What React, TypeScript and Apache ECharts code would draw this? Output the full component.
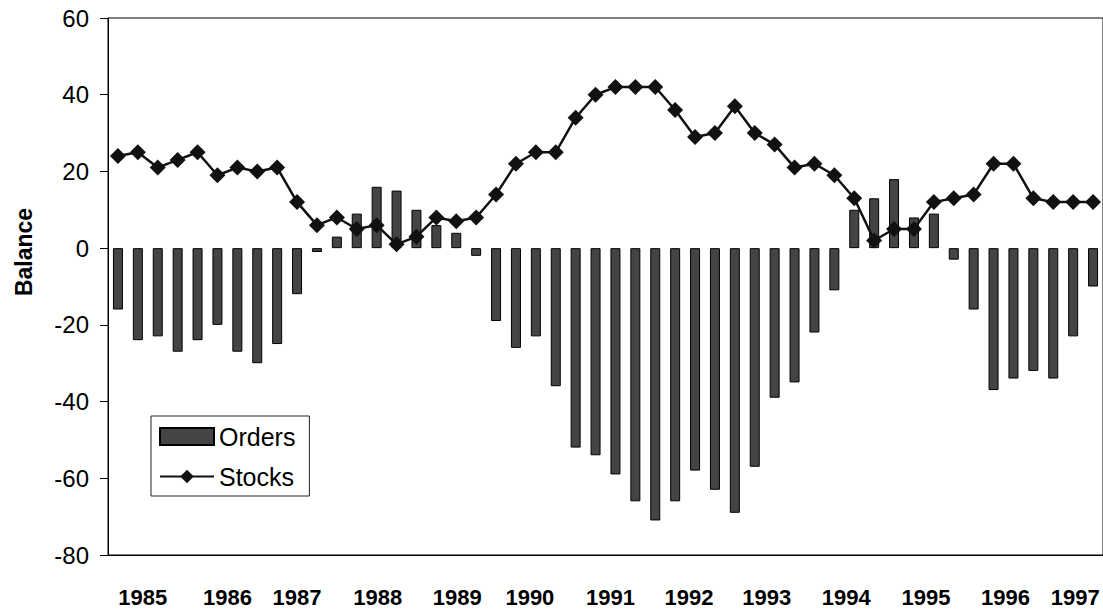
import React, { useEffect, useRef } from "react";
import * as echarts from "echarts";

// Quarterly categories, 1985 Q1 .. 1997 Q2
const categories = [
  "1985Q1", "1985Q2", "1985Q3", "1985Q4",
  "1986Q1", "1986Q2", "1986Q3", "1986Q4",
  "1987Q1", "1987Q2", "1987Q3", "1987Q4",
  "1988Q1", "1988Q2", "1988Q3", "1988Q4",
  "1989Q1", "1989Q2", "1989Q3", "1989Q4",
  "1990Q1", "1990Q2", "1990Q3", "1990Q4",
  "1991Q1", "1991Q2", "1991Q3", "1991Q4",
  "1992Q1", "1992Q2", "1992Q3", "1992Q4",
  "1993Q1", "1993Q2", "1993Q3", "1993Q4",
  "1994Q1", "1994Q2", "1994Q3", "1994Q4",
  "1995Q1", "1995Q2", "1995Q3", "1995Q4",
  "1996Q1", "1996Q2", "1996Q3", "1996Q4",
  "1997Q1", "1997Q2",
];

const orders = [
  -16, -24, -23, -27, -24, -20, -27, -30, -25, -12,
  -1, 3, 9, 16, 15, 10, 6, 4, -2, -19,
  -26, -23, -36, -52, -54, -59, -66, -71, -66, -58,
  -63, -69, -57, -39, -35, -22, -11, 10, 13, 18,
  8, 9, -3, -16, -37, -34, -32, -34, -23, -10,
];

const stocks = [
  24, 25, 21, 23, 25, 19, 21, 20, 21, 12,
  6, 8, 5, 6, 1, 3, 8, 7, 8, 14,
  22, 25, 25, 34, 40, 42, 42, 42, 36, 29,
  30, 37, 30, 27, 21, 22, 19, 13, 2, 5,
  5, 12, 13, 14, 22, 22, 13, 12, 12, 12,
];

// Year tick labels and where (in quarter-index units) they sit under the axis
const yearLabels = [
  "1985", "1986", "1987", "1988", "1989", "1990", "1991",
  "1992", "1993", "1994", "1995", "1996", "1997",
];
const yearLabelAt = [
  1.25, 5.5, 9.0, 13.05, 17.05, 20.7, 24.75, 28.7, 32.6, 36.6, 40.6, 44.6, 48.1,
];

const yMin = -80;
const yMax = 60;
const yStep = 20;

const FONT = "Arial, 'Liberation Sans', Helvetica, sans-serif";

export default function App() {
  const ref = useRef<HTMLDivElement>(null);

  useEffect(() => {
    if (!ref.current) return;
    const chart = echarts.init(ref.current, undefined, { renderer: "svg" });
    chart.setOption({
      animation: false,
      backgroundColor: "#ffffff",
      grid: {
        left: 108,
        top: 18,
        width: 1000,
        height: 537,
        show: true,
        borderColor: "#000000",
        borderWidth: 1,
        backgroundColor: "transparent",
      },
      legend: {
        orient: "vertical",
        left: 151,
        top: 416,
        backgroundColor: "#ffffff",
        borderColor: "#222222",
        borderWidth: 1,
        padding: [8, 14, 7, 8],
        itemWidth: 54,
        itemHeight: 17,
        itemGap: 15,
        textStyle: {
          fontFamily: FONT,
          fontSize: 25,
          color: "#000000",
          lineHeight: 25,
        },
        data: [
          { name: "Orders", icon: "rect" },
          { name: "Stocks" },
        ],
      },
      graphic: [
        {
          type: "text",
          x: 24,
          y: 252,
          rotation: Math.PI / 2,
          style: {
            text: "Balance",
            fontFamily: FONT,
            fontSize: 23,
            fontWeight: "bold",
            fill: "#000000",
            align: "center",
            verticalAlign: "middle",
          },
        },
      ],
      xAxis: [
        {
          type: "category",
          data: categories,
          boundaryGap: true,
          position: "bottom",
          axisLine: { show: true, onZero: false, lineStyle: { color: "#000000", width: 1 } },
          axisTick: { show: false },
          axisLabel: { show: false },
          splitLine: { show: false },
        },
        {
          type: "value",
          min: -0.5,
          max: categories.length - 0.5,
          position: "bottom",
          axisLine: { show: false },
          axisTick: { show: false },
          splitLine: { show: false },
          axisLabel: {
            show: true,
            customValues: yearLabelAt,
            margin: 31,
            fontFamily: FONT,
            fontSize: 22,
            fontWeight: "bold",
            color: "#000000",
            formatter: (v: number) => {
              const i = yearLabelAt.findIndex((p) => Math.abs(p - v) < 1e-6);
              return i >= 0 ? yearLabels[i] : "";
            },
          },
        },
      ],
      yAxis: {
        type: "value",
        min: yMin,
        max: yMax,
        interval: yStep,
        axisLine: { show: true, onZero: false, lineStyle: { color: "#000000", width: 1 } },
        axisTick: { show: true, inside: false, length: 8, lineStyle: { color: "#000000", width: 1 } },
        splitLine: { show: false },
        axisLabel: {
          margin: 19,
          fontFamily: FONT,
          fontSize: 24,
          color: "#000000",
        },
      },
      series: [
        {
          name: "Orders",
          type: "bar",
          xAxisIndex: 0,
          data: orders,
          barWidth: 10,
          itemStyle: {
            color: "#444444",
            borderColor: "#000000",
            borderWidth: 1,
          },
        },
        {
          name: "Stocks",
          type: "line",
          xAxisIndex: 0,
          data: stocks,
          showSymbol: true,
          showAllSymbol: true,
          symbol: "diamond",
          symbolSize: 16,
          lineStyle: { color: "#111111", width: 2.5 },
          itemStyle: { color: "#111111" },
        },
      ],
    });
    return () => chart.dispose();
  }, []);

  return (
    <div
      ref={ref}
      style={{ position: "absolute", left: 0, top: 0, width: 1103, height: 613 }}
    />
  );
}
